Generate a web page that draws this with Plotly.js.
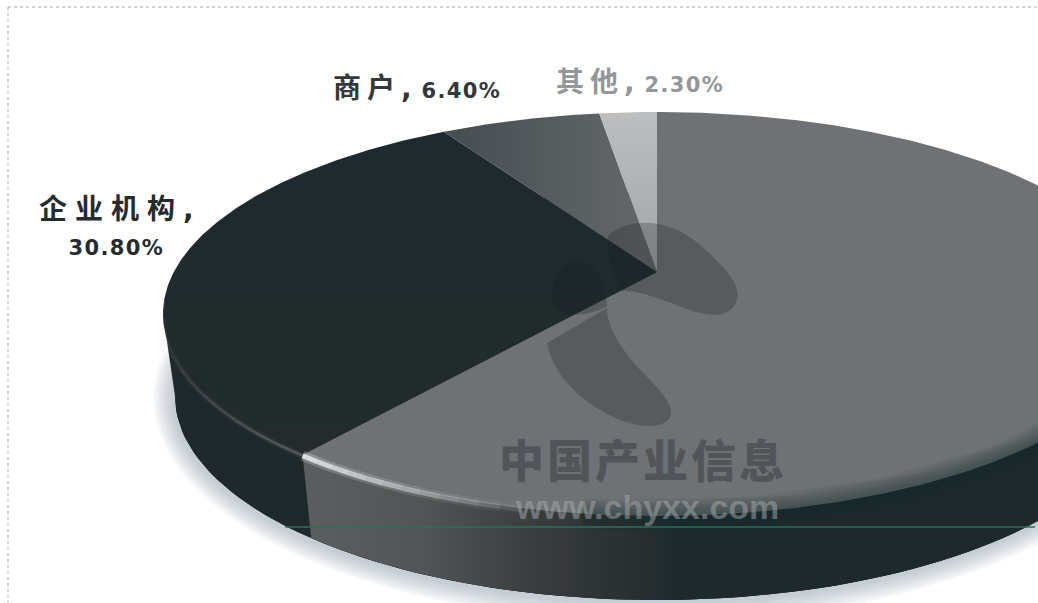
<!DOCTYPE html>
<html>
<head>
<meta charset="utf-8">
<script src="https://cdn.plot.ly/plotly-3.0.1.min.js"></script>
<style>html,body{margin:0;padding:0;background:#fff;overflow:hidden}</style>
</head>
<body>
<div id="chart" style="width:1038px;height:603px"></div>
<script>
// Shares in clockwise order starting from twelve o'clock
const categories = ['', '企业机构', '商户', '其他'];
const shares = [60.5, 30.8, 6.4, 2.3];

// Geometry of the tilted disc, in pixels of the 1038x603 canvas
const disc = {cx: 657, cy: 314, rx: 494, ry: 202, tilt: -0.208};
const base = {cx: 657, cy: 396, rx: 482, ry: 204, tilt: -0.208};

// Perspective projection of a polar angle (degrees clockwise from the top) onto an ellipse
function project(deg, e) {
  const a = deg * Math.PI / 180, X = Math.sin(a), Y = -Math.cos(a);
  const d = 1 + e.tilt * Y;
  return [e.cx + e.rx * X * Math.sqrt(1 - e.tilt * e.tilt) / d,
          e.cy + e.ry * (Y + e.tilt) / d];
}
function range(a, b, step) {
  const out = [], n = Math.ceil(Math.abs(b - a) / step);
  for (let i = 0; i <= n; i++) out.push(a + (b - a) * i / n);
  return out;
}
function ellipsePoint(deg, e, grow) {
  const a = deg * Math.PI / 180;
  return [e.cx + (e.rx + grow) * Math.sin(a), e.cy - (e.ry + grow) * Math.cos(a)];
}
function poly(points, extra) {
  return Object.assign({
    x: points.map(p => p[0]), y: points.map(p => p[1]),
    mode: 'lines', fill: 'toself', line: {width: 0}, hoverinfo: 'skip'
  }, extra);
}
function flat(c0, c1, type, start, stop) {
  return {fillgradient: {type: type, colorscale: [[0, c0], [1, c1]], start: start, stop: stop}};
}

// Slice boundaries from the shares
const edges = [0];
shares.forEach(v => edges.push(edges[edges.length - 1] + v * 3.6));

const traces = [];

// Soft contact shadow below the base
for (let i = 10; i >= 1; i--) {
  const pts = range(0, 360, 2).map(t => {
    const p = ellipsePoint(t, base, i * 2.1);
    return [p[0] - 1, p[1] + 2];
  });
  traces.push(poly(pts, {fillcolor: 'rgba(140,148,168,0.058)'}));
}

// Dark side wall: base ellipse, the band joining it to the disc, and the straight tangent at the left
traces.push(poly(range(0, 360, 2).map(t => ellipsePoint(t, base, 0)), {fillcolor: '#1f292c'}));
const wallTop = range(60, 300, 2).map(t => ellipsePoint(t, disc, -1));
const wallLow = range(300, 60, 2).map(t => ellipsePoint(t, base, 0));
traces.push(poly(wallTop.concat(wallLow), {fillcolor: '#1f292c'}));
traces.push(poly([ellipsePoint(270, disc, 0), ellipsePoint(270, base, 0),
  ellipsePoint(180, base, 0), ellipsePoint(180, disc, 0)], {fillcolor: '#1f292c'}));

// Side wall of the large slice, lit at the cut and fading into shadow
const litTop = range(110, edges[1], 1).map(t => project(t, disc));
const litLow = range(edges[1], 110, 1).map(t => project(t, base));
traces.push(poly(litTop.concat(litLow), {
  fillgradient: {type: 'horizontal', start: 315, stop: 680, colorscale: [
    [0, '#5b5e5f'], [0.3, '#525455'], [0.62, '#383c3d'], [1, '#1f292c']]}
}));

// Top faces of the four slices
const apexPoint = [disc.cx, disc.cy + disc.ry * disc.tilt];
function wedge(i) {
  return [apexPoint].concat(range(edges[i], edges[i + 1], 0.5).map(t => project(t, disc)));
}
traces.push(poly(wedge(0), {fillcolor: '#6f7275'}));
traces.push(poly(wedge(1), flat('#1d2a2f', '#232c2b', 'vertical', 130, 460)));
traces.push(poly(wedge(2), flat('#454d50', '#63676a', 'horizontal', 445, 640)));
traces.push(poly(wedge(3), flat('#bcbec0', '#a2a5a7', 'vertical', 112, 270)));

// Shaded lip where the large slice meets its dark wall, built up in thin translucent layers
for (let w = 32; w >= 3; w -= 2.5) {
  const pts = range(120, 187, 1).map(t => project(t, disc));
  traces.push({x: pts.map(p => p[0]), y: pts.map(p => p[1]), mode: 'lines',
    line: {width: w, color: 'rgba(30,40,44,0.045)'}, hoverinfo: 'skip'});
}

// Bevel highlight running along the front rim, brightest at the slice cut
function rim(a, b, steps, alpha0, alpha1, color, wide, narrow) {
  const ts = range(a, b, Math.abs(b - a) / steps);
  for (let i = 0; i < ts.length - 1; i++) {
    const alpha = alpha0 + (alpha1 - alpha0) * i / (ts.length - 2);
    const pts = range(ts[i], ts[i + 1], 0.4).map(t => project(t, disc));
    [[wide, 0.3], [narrow, 1]].forEach(w => {
      traces.push({x: pts.map(p => p[0]), y: pts.map(p => p[1] + 1), mode: 'lines',
        line: {width: w[0], color: 'rgba(' + color + ',' + (alpha * w[1]).toFixed(3) + ')'},
        hoverinfo: 'skip'});
    });
  }
}
rim(edges[1], 193, 12, 0.9, 0.12, '228,230,232', 10, 5);
rim(edges[1], 262, 12, 0.34, 0.03, '150,156,158', 6, 2.5);

// Label text is built from the category names and their shares
const pct = i => shares[i].toFixed(2) + '%';
const cjk = (s, sp) => '<span style="letter-spacing:' + sp + 'px">' + s + '</span>,';
const num = s => '<span style="font-size:21px;letter-spacing:1.4px">' + s + '</span>';
const labelFont = c => ({family: '"DejaVu Sans","Noto Sans CJK SC",sans-serif', size: 28, color: c, weight: 700});

const annotations = [
  {x: 116, y: 226, text: cjk(categories[1], 8) + '<br>' + num(pct(1)), font: labelFont('#262b2e')},
  {x: 417, y: 88, text: cjk(categories[2], 6) + ' ' + num(pct(2)), font: labelFont('#33383b')},
  {x: 640, y: 82, text: cjk(categories[3], 6) + ' ' + num(pct(3)), font: labelFont('#94979a')},
  {x: 643, y: 458, text: '<span style="letter-spacing:3px">中国产业信息</span>',
    font: {family: '"Noto Sans CJK SC",sans-serif', size: 45, color: 'rgba(38,42,46,0.42)', weight: 900}},
  {x: 647, y: 507, text: 'www.chyxx.com',
    font: {family: '"Liberation Sans",sans-serif', size: 34, color: 'rgba(165,170,172,0.5)', weight: 700}}
].map(a => Object.assign({xref: 'x', yref: 'y', showarrow: false, xanchor: 'center', yanchor: 'middle', align: 'center'}, a));

// Translucent logo watermark and thin page furniture
const logoFill = 'rgba(22,28,30,0.26)';
const shapes = [
  {type: 'path', layer: 'above', fillcolor: logoFill, line: {width: 0},
   path: 'M 608 236 C 625 218, 668 216, 700 245 C 722 264, 742 285, 737 300 C 732 317, 712 318, 690 310 C 668 302, 640 290, 622 291 C 612 275, 606 250, 608 236 Z'},
  {type: 'path', layer: 'above', fillcolor: logoFill, line: {width: 0},
   path: 'M 552 297 C 552 272, 568 258, 580 260 C 598 264, 606 288, 607 306 C 590 316, 556 322, 552 297 Z'},
  {type: 'path', layer: 'above', fillcolor: logoFill, line: {width: 0},
   path: 'M 547 343 L 607 308 C 607 330, 625 355, 650 380 C 668 398, 676 412, 668 420 C 655 432, 625 425, 600 410 C 570 392, 552 368, 547 343 Z'},
  {type: 'line', layer: 'above', x0: 285, x1: 1035, y0: 527, y1: 527, line: {color: '#2a7058', width: 1.5}},
  {type: 'line', layer: 'above', x0: 8, x1: 1038, y0: 7, y1: 7, line: {color: '#a9a9a9', width: 1, dash: 'dot'}},
  {type: 'line', layer: 'above', x0: 8, x1: 8, y0: 7, y1: 603, line: {color: '#a9a9a9', width: 1, dash: 'dot'}}
];

Plotly.newPlot('chart', traces, {
  width: 1038, height: 603,
  margin: {l: 0, r: 0, t: 0, b: 0},
  paper_bgcolor: '#fff', plot_bgcolor: '#fff',
  showlegend: false,
  xaxis: {visible: false, range: [0, 1038], fixedrange: true},
  yaxis: {visible: false, range: [603, 0], fixedrange: true},
  annotations: annotations,
  shapes: shapes
}, {displayModeBar: false, staticPlot: true});
</script>
</body>
</html>
